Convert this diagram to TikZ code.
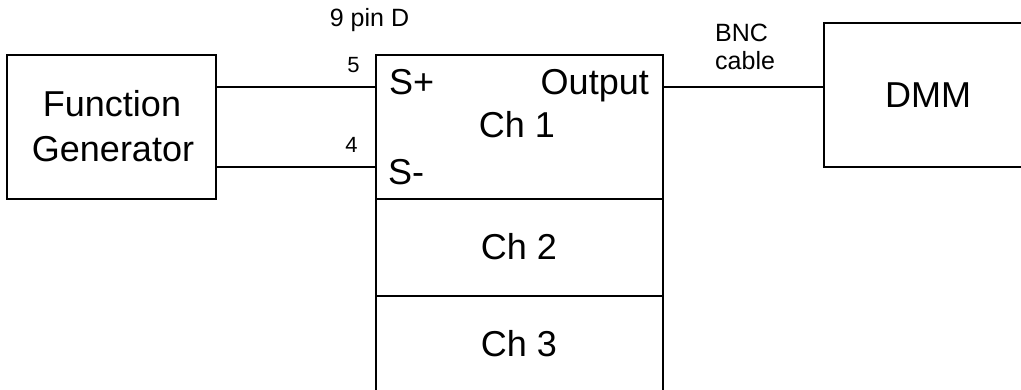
\documentclass[tikz,border=0pt]{standalone}
\usepackage{fontspec}
\setmainfont{Liberation Sans}
\begin{document}
\begin{tikzpicture}[x=1pt,y=-1pt,
  box/.style={draw=black, line width=1.6pt, rectangle, inner sep=0pt},
  wire/.style={draw=black, line width=1.6pt},
  big/.style={inner sep=0pt, anchor=base, font=\fontsize{36}{43}\selectfont},
  small/.style={inner sep=0pt, anchor=base, font=\fontsize{25}{30}\selectfont},
  pin/.style={inner sep=0pt, anchor=base, font=\fontsize{22}{26}\selectfont}]
\path[use as bounding box] (0,0) rectangle (1021,390);
\clip (0,0) rectangle (1021,390);
\fill[white] (0,0) rectangle (1021,390);
% boxes
\node[box, minimum width=209pt, minimum height=144pt] (fg) at (111.5,127) {};
\node[box, minimum width=287pt, minimum height=144pt] (ch1) at (519.5,127) {};
\node[box, minimum width=287pt, minimum height=97pt] (ch2) at (519.5,247.5) {};
\node[box, minimum width=287pt, minimum height=100pt] (ch3) at (519.5,346) {};
\node[box, minimum width=208pt, minimum height=144pt] (dmm) at (928,95) {};
% pin coordinates
\coordinate (in5) at (376,87);
\coordinate (in4) at (376,167);
\coordinate (out) at (663,87);
% connectors
\draw[wire] (fg.east |- in5) -- (in5);
\draw[wire] (fg.east |- in4) -- (in4);
\draw[wire] (out) -- (dmm.west |- out);
% texts
\node[big] (tfunc) at (112,117) {Function};
\node[big] (tgen) at (113,162) {Generator};
\node[big, anchor=base west] (tsp) at (389,95) {S+};
\node[big, anchor=base east] (tout) at (649,95) {Output};
\node[big] (tch1) at (517,138) {Ch 1};
\node[big, anchor=base west] (tsm) at (388,185) {S-};
\node[big] (tch2) at (519,260) {Ch 2};
\node[big] (tch3) at (519,356) {Ch 3};
\node[big] (tdmm) at (928,108) {DMM};
\node[small] (tpin) at (369.5,27) {9 pin D};
\node[small, anchor=base west] (tbnc) at (715,42) {BNC};
\node[small, anchor=base west] (tcab) at (715,70) {cable};
\node[pin] (t5) at (353.5,73) {5};
\node[pin] (t4) at (351.5,153) {4};
\end{tikzpicture}
\end{document}
